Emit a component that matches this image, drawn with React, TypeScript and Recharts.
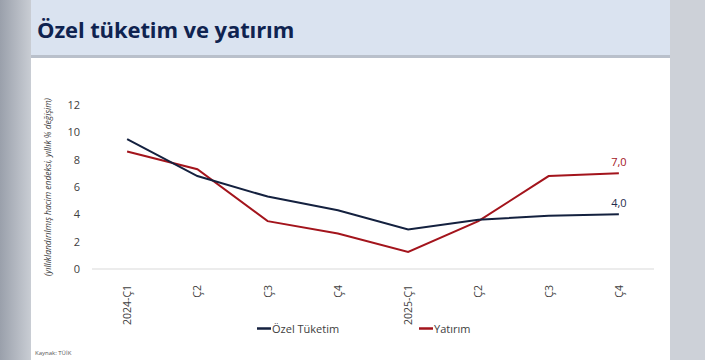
import React from "react";
import { LineChart, Line, XAxis, YAxis, LabelList } from "recharts";

const categories = ["2024-Ç1", "Ç2", "Ç3", "Ç4", "2025-Ç1", "Ç2", "Ç3", "Ç4"];
const ozelTuketim = [9.5, 6.8, 5.3, 4.3, 2.9, 3.6, 3.9, 4.0];
const yatirim = [8.6, 7.3, 3.5, 2.6, 1.25, 3.5, 6.8, 7.0];
const yTicks = [0, 2, 4, 6, 8, 10, 12];
const seriesNames = ["Özel Tüketim", "Yatırım"];
const seriesColors = ["#14213f", "#a3141c"];
const title = "Özel tüketim ve yatırım";
const yAxisTitle = "(yıllıklandırılmış hacim endeksi, yıllık % değişim)";
const source = "Kaynak: TÜİK";

const data = categories.map((c, i) => ({
  key: i,
  cat: c,
  ozel: ozelTuketim[i],
  yat: yatirim[i],
}));

const FONT = "'Open Sans', 'Noto Sans', sans-serif";

const XTick = (props: any) => {
  const { x, y, payload } = props;
  return (
    <text
      x={0}
      y={0}
      transform={`translate(${x + 4},${y + 8}) rotate(-90)`}
      textAnchor="end"
      fontSize={10.5}
      fill="#404040"
      fontFamily={FONT}
    >
      {categories[payload.value]}
    </text>
  );
};

const makeLastLabel = (color: string) => (props: any) => {
  const { x, y, value, index } = props;
  if (index !== categories.length - 1) return null;
  return (
    <text x={x} y={y - 7} textAnchor="middle" fontSize={11} fill={color} fontFamily={FONT}>
      {Number(value).toFixed(1).replace(".", ",")}
    </text>
  );
};

export default function App() {
  return (
    <div
      style={{
        position: "absolute",
        left: 0,
        top: 0,
        width: 705,
        height: 360,
        background: "#cdd1d8",
        overflow: "hidden",
        fontFamily: FONT,
      }}
    >
      <div style={{ position: "absolute", left: 0, top: 0, width: 31, height: 360, background: "linear-gradient(90deg,#9aa0ab,#c9cdd4)" }} />
      <div style={{ position: "absolute", left: 31, top: 0, width: 639, height: 55, background: "#dae3f0" }} />
      <div style={{ position: "absolute", left: 31, top: 55, width: 639, height: 3, background: "#b9c0cb" }} />
      <div style={{ position: "absolute", left: 31, top: 58, width: 639, height: 302, background: "#ffffff" }} />
      <div
        style={{
          position: "absolute",
          left: 37,
          top: 14,
          fontSize: 22,
          fontWeight: 700,
          color: "#0f2350",
          letterSpacing: -0.1,
          whiteSpace: "nowrap",
        }}
      >
        {title}
      </div>
      <svg style={{ position: "absolute", left: 0, top: 0 }} width={705} height={360}>
        <text
          transform="translate(51,187) rotate(-90)"
          textAnchor="middle"
          fontSize={8.5}
          fontStyle="italic"
          fill="#404040"
          fontFamily={FONT}
        >
          {yAxisTitle}
        </text>
        <text x={35} y={355} fontSize={6} fill="#555" fontFamily={FONT}>
          {source}
        </text>
        {seriesNames.map((n, i) => {
          const lx = i === 0 ? 257 : 419;
          return (
            <g key={n}>
              <line x1={lx} x2={lx + 14} y1={328.5} y2={328.5} stroke={seriesColors[i]} strokeWidth={2.5} />
              <text x={lx + 15} y={333} fontSize={11} fill="#404040" fontFamily={FONT}>
                {n}
              </text>
            </g>
          );
        })}
      </svg>
      <div style={{ position: "absolute", left: 0, top: 0 }}>
        <LineChart width={705} height={360} data={data} margin={{ top: 105, right: 51, bottom: 31, left: 52 }}>
          <XAxis
            dataKey="key"
            type="category"
            scale="band"
            height={60}
            tick={<XTick />}
            tickLine={false}
            axisLine={{ stroke: "#d9d9d9", strokeWidth: 1 }}
            interval={0}
          />
          <YAxis
            width={40}
            domain={[0, 12]}
            ticks={yTicks}
            axisLine={false}
            tickLine={false}
            tickMargin={6}
            tick={{ fontSize: 11, fill: "#404040", fontFamily: FONT }}
          />
          <Line
            dataKey="yat"
            name={seriesNames[1]}
            stroke={seriesColors[1]}
            strokeWidth={2}
            dot={false}
            isAnimationActive={false}
          >
            <LabelList dataKey="yat" content={makeLastLabel(seriesColors[1])} />
          </Line>
          <Line
            dataKey="ozel"
            name={seriesNames[0]}
            stroke={seriesColors[0]}
            strokeWidth={2}
            dot={false}
            isAnimationActive={false}
          >
            <LabelList dataKey="ozel" content={makeLastLabel("#1f2d4d")} />
          </Line>
        </LineChart>
      </div>
    </div>
  );
}
